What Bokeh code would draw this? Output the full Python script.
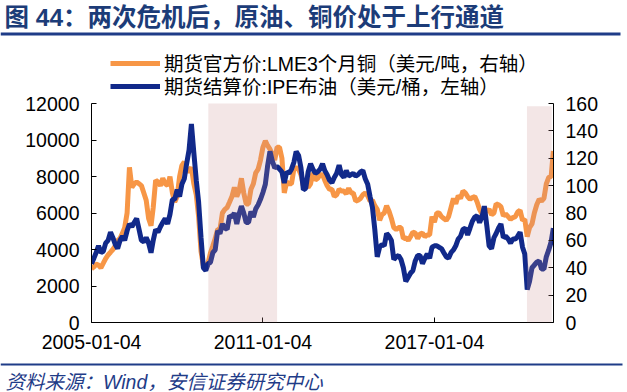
import pandas as pd
from bokeh.plotting import figure
from bokeh.layouts import column
from bokeh.models import (Range1d, LinearAxis, FixedTicker, DatetimeTickFormatter,
                          BoxAnnotation, Legend, LegendItem)
from bokeh.core.properties import value
from bokeh.embed import file_html
from bokeh.resources import INLINE

title_text = "图 44：两次危机后，原油、铜价处于上行通道"
source_text = "资料来源：Wind，安信证券研究中心"
copper_label = "期货官方价:LME3个月铜（美元/吨，右轴）"
oil_label = "期货结算价:IPE布油（美元/桶，左轴）"

x_tick_dates = ["2005-01-04", "2011-01-04", "2017-01-04"]
left_ticks = [0, 2000, 4000, 6000, 8000, 10000, 12000]
right_ticks = [0, 20, 40, 60, 80, 100, 120, 140, 160]
crisis_periods = [("2009-02-05", "2011-07-04"), ("2020-04-01", "2021-02-12")]

# monthly readings (4th of each month), 2005-01 .. 2021-03
copper = [
    2950, 3050, 3200, 3150, 3000, 3250, 3500, 3700, 3850, 4000, 4200, 4500,
    4600, 4900, 5200, 6000, 8500, 7400, 7600, 7700, 7600, 7500, 7100, 6700,
    5700, 5300, 6300, 7800, 7700, 7500, 7900, 7600, 7500, 8000, 7100, 6600,
    6900, 8000, 8600, 8800, 8300, 8300, 8500, 7600, 7000, 5800, 3900, 3100,
    3000, 3300, 3800, 4200, 4600, 5100, 5100, 6000, 6200, 6300, 6600, 6900,
    7400, 6900, 7200, 7900, 7100, 6500, 6500, 7300, 7600, 8200, 8400, 8900,
    9600, 9950, 9700, 9500, 9200, 8900, 9600, 9600, 9000, 7100, 7700, 7600,
    7600, 8400, 8500, 8400, 8100, 7500, 7600, 7400, 7600, 8200, 7800, 7900,
    8100, 8100, 7800, 7500, 7300, 7300, 6900, 7000, 7300, 7200, 7200, 7050,
    7350, 7100, 7100, 6650, 6700, 6800, 7000, 7100, 6950, 6650, 6700, 6400,
    6200, 5600, 5900, 6000, 6400, 6100, 5700, 5200, 5100, 5200, 5200, 4600,
    4650, 4500, 4700, 4950, 4900, 4600, 4850, 4900, 4700, 4800, 4800, 5800,
    5500, 6000, 6000, 5800, 5700, 5600, 5800, 6300, 6800, 6500, 6950, 6800,
    7200, 7100, 6900, 6750, 6850, 6900, 6600, 6200, 5950, 6200, 6100, 6200,
    5900, 6000, 6500, 6450, 6350, 5850, 5950, 5800, 5650, 5750, 5800, 6050,
    6150, 5600, 5650, 4700, 5200, 5400, 6000, 6450, 6750, 6650, 6800, 7600,
    7950, 8000, 9400,
]
oil = [
    43, 47, 51, 56, 51, 52, 58, 60, 66, 62, 57, 54,
    60, 63, 60, 67, 72, 70, 73, 76, 68, 60, 59, 62,
    58, 51, 60, 68, 66, 70, 73, 76, 72, 79, 90, 90,
    97, 92, 101, 105, 116, 126, 145, 124, 104, 88, 62, 40,
    38, 43, 44, 51, 53, 67, 65, 72, 69, 68, 78, 77,
    80, 72, 79, 85, 80, 73, 73, 81, 77, 83, 86, 90,
    95, 101, 114, 125, 118, 113, 114, 112, 110, 102, 110, 109,
    112, 117, 125, 122, 113, 97, 98, 110, 116, 112, 109, 110,
    112, 116, 111, 108, 104, 102, 106, 109, 115, 108, 106, 111,
    107, 108, 109, 107, 108, 110, 111, 105, 101, 92, 84, 68,
    48, 55, 57, 56, 65, 63, 60, 46, 48, 49, 46, 40,
    30, 33, 36, 38, 45, 49, 49, 43, 47, 50, 47, 55,
    56, 56, 55, 54, 51, 48, 47, 51, 53, 56, 61, 63,
    68, 69, 64, 69, 74, 77, 78, 73, 77, 85, 71, 56,
    54, 62, 65, 69, 72, 62, 63, 61, 58, 61, 61, 63,
    66, 55, 50, 24, 30, 40, 42, 44, 45, 39, 39, 48,
    53, 59, 69,
]

dates = pd.date_range("2005-01-04", periods=len(copper), freq=pd.DateOffset(months=1))


def ms(s):
    return pd.Timestamp(s).value / 1e6


FONT = "'Liberation Sans', 'Noto Sans CJK SC', sans-serif"
NAVY = "#1f3c88"
W = 627
HEADER_H, MAIN_H, FOOTER_H = 40, 318, 34


def deco_figure(h):
    f = figure(width=W, height=h, output_backend="svg", toolbar_location=None,
               x_range=Range1d(0, W), y_range=Range1d(h, 0),
               x_axis_location=None, y_axis_location=None,
               min_border=0, min_border_left=0, min_border_right=0,
               min_border_top=0, min_border_bottom=0, frame_align=False)
    f.outline_line_color = None
    f.grid.visible = False
    return f


# ---- header: title + rule
header = deco_figure(HEADER_H)
header.text(x=[4], y=[17], text=[title_text], text_font=value(FONT),
            text_font_size="24.5px", text_font_style="bold", text_color="#1c3c78",
            text_baseline="middle", text_align="left")
header.quad(left=[0], right=[620], top=[32], bottom=[35], fill_color=NAVY, line_color=None)

# ---- main chart (frame: page y 40 .. 322, value 12000 at page y 103)
frame_h = MAIN_H - 36
left_top = 12000 * frame_h / 219
main = figure(width=W, height=MAIN_H, x_axis_type="datetime", output_backend="svg",
              toolbar_location=None, frame_align=False,
              x_range=Range1d(ms("2005-01-04"), ms("2021-03-06")),
              y_range=Range1d(0, left_top),
              min_border_left=91, min_border_right=74, min_border_top=0, min_border_bottom=36)
main.outline_line_color = None
main.grid.visible = False
main.extra_y_ranges = {"oil": Range1d(0, left_top * 160 / 12000)}
main.add_layout(LinearAxis(y_range_name="oil"), "right")

for ax in main.axis:
    ax.axis_line_color = "#000000"
    ax.major_tick_line_color = "#000000"
    ax.major_tick_in = 5
    ax.major_tick_out = 0
    ax.minor_tick_line_color = None
    ax.major_label_text_font = FONT
    ax.major_label_text_font_size = "19.5px"
    ax.major_label_text_color = "#000000"
    ax.major_label_standoff = 12

main.xaxis.ticker = FixedTicker(ticks=[ms(d) for d in x_tick_dates])
fmt = "%Y-%m-%d"
main.xaxis.formatter = DatetimeTickFormatter(years=fmt, months=fmt, days=fmt, hours=fmt)
main.yaxis[0].ticker = FixedTicker(ticks=left_ticks)
main.yaxis[0].bounds = (0, 12000)
main.yaxis[1].ticker = FixedTicker(ticks=right_ticks)
main.yaxis[1].bounds = (0, 160)

r_cu = main.line(dates, copper, line_color="#f79646", line_width=5)
r_oil = main.line(dates, oil, line_color="#11298a", line_width=5, y_range_name="oil")

for i, (a, b) in enumerate(crisis_periods):
    main.add_layout(BoxAnnotation(left=ms(a), right=ms(b), bottom=0,
                                  top=12000 if i == 0 else 11850,
                                  fill_color="#c98c8c", fill_alpha=0.22, line_alpha=0))

for label, rend, ypos in [(copper_label, r_cu, 245), (oil_label, r_oil, 222)]:
    lg = Legend(items=[LegendItem(label=label, renderers=[rend])],
                location=(19, ypos), orientation="vertical", glyph_width=50, glyph_height=22,
                label_standoff=4, spacing=0, padding=0, margin=0,
                border_line_alpha=0, background_fill_alpha=0,
                label_text_font=FONT, label_text_font_size="19.5px",
                label_text_color="#000000")
    main.add_layout(lg, "center")

# ---- footer: rule + source
footer = deco_figure(FOOTER_H)
footer.quad(left=[0], right=[622], top=[5], bottom=[7], fill_color=NAVY, line_color=None)
footer.text(x=[5], y=[23], text=[source_text], text_font=value(FONT),
            text_font_size="19.5px", text_font_style="italic", text_color=NAVY,
            text_baseline="middle", text_align="left")

layout = column(header, main, footer, spacing=0)
open("out.html", "w").write(file_html(layout, INLINE))
